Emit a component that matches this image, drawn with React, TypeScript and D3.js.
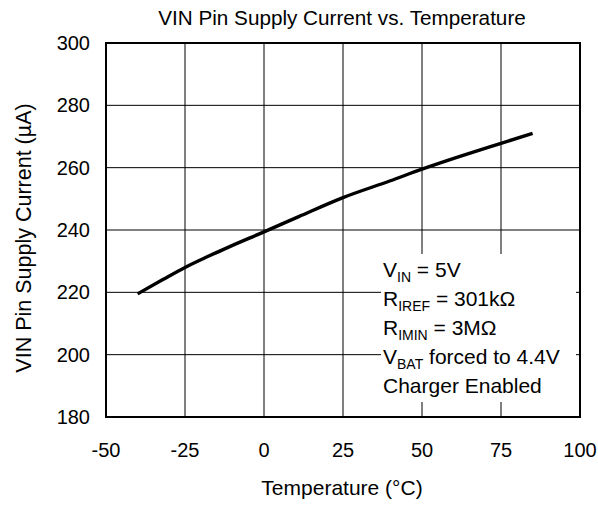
import * as d3 from "d3";

const temps: number[] = [-40, -32, -25, -18, -11, 0, 11, 25, 40, 50, 62, 75, 85];
const current: number[] = [219.5, 224.1, 228.0, 231.4, 234.6, 239.4, 244.3, 250.4, 255.8, 259.5, 263.6, 267.8, 271];
const xTicks: number[] = [-50, -25, 0, 25, 50, 75, 100];
const yTicks: number[] = [180, 200, 220, 240, 260, 280, 300];

export default function App() {
  const w = 598;
  const h = 507;
  const left = 106;
  const right = 580;
  const top = 43;
  const bottom = 417;

  const x = d3.scaleLinear().domain([-50, 100]).range([left, right]);
  const y = d3.scaleLinear().domain([180, 300]).range([bottom, top]);

  const line = d3
    .line<number>()
    .x((d, i) => x(temps[i]))
    .y((d) => y(d))
    .curve(d3.curveMonotoneX);

  const font = "'Liberation Sans', Arial, sans-serif";
  // annotation box blanks out the grid behind the text
  const box = { x0: 381, x1: 576, y0: 254, y1: 402 };
  const lines: [string, string, string][] = [
    ["V", "IN", " = 5V"],
    ["R", "IREF", " = 301kΩ"],
    ["R", "IMIN", " = 3MΩ"],
    ["V", "BAT", " forced to 4.4V"],
    ["Charger Enabled", "", ""],
  ];

  return (
    <svg width={w} height={h} style={{ position: "absolute", left: 0, top: 0 }} fontFamily={font}>
      <rect width={w} height={h} fill="white" />
      {/* grid */}
      {xTicks.slice(1, -1).map((t) => (
        <line key={"gx" + t} x1={x(t)} x2={x(t)} y1={top} y2={bottom} stroke="#000" strokeWidth={1} />
      ))}
      {yTicks.slice(1, -1).map((t) => (
        <line key={"gy" + t} x1={left} x2={right} y1={y(t)} y2={y(t)} stroke="#000" strokeWidth={1} />
      ))}
      <rect x={box.x0} y={box.y0} width={box.x1 - box.x0} height={box.y1 - box.y0} fill="white" />
      {/* frame */}
      <rect x={left} y={top} width={right - left} height={bottom - top} fill="none" stroke="#000" strokeWidth={2} />
      {/* data */}
      <path d={line(current) || ""} fill="none" stroke="#000" strokeWidth={3.4} strokeLinejoin="round" />
      {/* tick labels */}
      {xTicks.map((t) => (
        <text key={"tx" + t} x={x(t)} y={bottom + 40} textAnchor="middle" fontSize={20}>
          {t}
        </text>
      ))}
      {yTicks.map((t) => (
        <text key={"ty" + t} x={left - 16} y={y(t) + 7} textAnchor="end" fontSize={20}>
          {t}
        </text>
      ))}
      {/* titles */}
      <text x={342} y={25} textAnchor="middle" fontSize={20.7}>
        VIN Pin Supply Current vs. Temperature
      </text>
      <text x={342} y={495} textAnchor="middle" fontSize={21}>
        Temperature (°C)
      </text>
      <text transform={`translate(31, 238) rotate(-90)`} textAnchor="middle" fontSize={21.5}>
        VIN Pin Supply Current (µA)
      </text>
      {/* annotation */}
      {lines.map((l, i) => (
        <text key={"a" + i} x={383} y={277 + i * 29} fontSize={21}>
          {l[0]}
          {l[1] && (
            <tspan fontSize={14} dy={5}>
              {l[1]}
            </tspan>
          )}
          {l[1] && <tspan dy={-5}>{l[2]}</tspan>}
        </text>
      ))}
    </svg>
  );
}
